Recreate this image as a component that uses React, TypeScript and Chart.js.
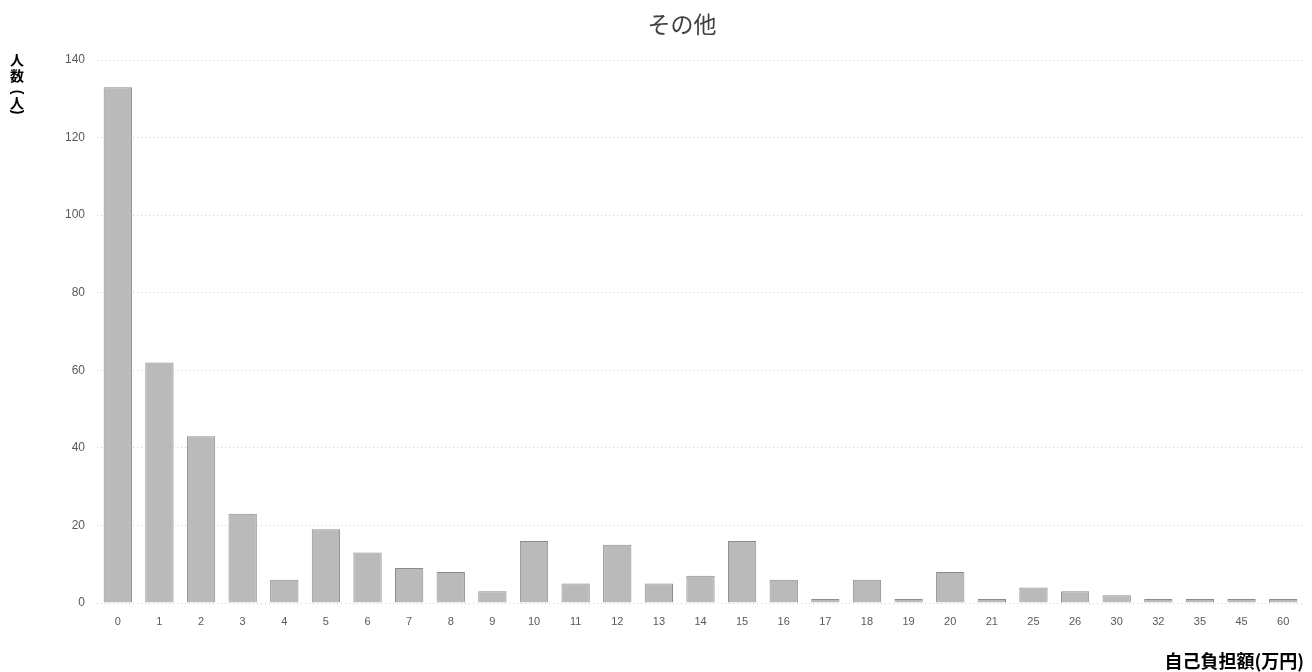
import React, { useEffect, useRef } from "react";
import { Chart, registerables } from "chart.js";

Chart.register(...registerables);

const categories = ["0","1","2","3","4","5","6","7","8","9","10","11","12","13","14","15","16","17","18","19","20","21","25","26","30","32","35","45","60"];
const counts = [133,62,43,23,6,19,13,9,8,3,16,5,15,5,7,16,6,1,6,1,8,1,4,3,2,1,1,1,1];
const yTicks = [0,20,40,60,80,100,120,140];
const chartTitle = "その他";
const yTitleChars = ["人","数","(","人",")"];
const xTitle = "自己負担額(万円)";

const textPlugin = {
  id: "textPlugin",
  afterDraw(chart: any) {
    const ctx = chart.ctx;
    ctx.save();
    ctx.fillStyle = "#404040";
    ctx.font = "23px 'Noto Sans CJK JP'";
    ctx.textAlign = "center";
    ctx.textBaseline = "middle";
    ctx.fillText(chartTitle, 682, 24);
    ctx.fillStyle = "#000000";
    const ys = [60, 76, 92, 103, 112];
    yTitleChars.forEach((c, i) => {
      if (c === "(" || c === ")") {
        ctx.save();
        ctx.translate(17, ys[i]);
        ctx.rotate(Math.PI / 2);
        ctx.font = "bold 14px 'Liberation Sans'";
        ctx.fillText(c, 0, 0);
        ctx.restore();
      } else {
        ctx.font = "bold 14px 'Noto Sans CJK JP'";
        ctx.fillText(c, 17, ys[i]);
      }
    });
    ctx.font = "bold 18px 'Noto Sans CJK JP'";
    ctx.textAlign = "right";
    ctx.fillText(xTitle, 1304, 661);
    ctx.restore();
  },
};

export default function App() {
  const ref = useRef<HTMLCanvasElement>(null);
  useEffect(() => {
    const chart = new Chart(ref.current!, {
      type: "bar",
      data: {
        labels: categories,
        datasets: [
          {
            data: counts,
            backgroundColor: "#bababa",
            borderColor: "#8c8c8c",
            borderWidth: 1,
            barPercentage: 0.68,
            categoryPercentage: 1,
          },
        ],
      },
      plugins: [textPlugin],
      options: {
        animation: false,
        responsive: false,
        layout: { padding: { top: 60, right: 8, left: 0, bottom: 0 } },
        plugins: { legend: { display: false }, tooltip: { enabled: false }, title: { display: false } },
        scales: {
          x: {
            grid: { display: false },
            border: { display: false },
            ticks: { color: "#595959", font: { size: 11, family: "'Liberation Sans'" }, padding: 4, maxRotation: 0, autoSkip: false },
            afterFit(scale: any) { scale.height = 69; },
          },
          y: {
            min: 0,
            max: 140,
            afterBuildTicks(scale: any) { scale.ticks = yTicks.map((v) => ({ value: v })); },
            grid: { color: "#cccccc", drawTicks: false },
            border: { display: false, dash: [1, 3] },
            ticks: { color: "#595959", font: { size: 12, family: "'Liberation Sans'" }, padding: 12 },
            afterFit(scale: any) { scale.width = 97; },
          },
        },
      },
    });
    return () => chart.destroy();
  }, []);
  return (
    <div style={{ position: "fixed", left: 0, top: 0, width: 1312, height: 672, background: "#fff" }}>
      <canvas ref={ref} width={1312} height={672} />
    </div>
  );
}
